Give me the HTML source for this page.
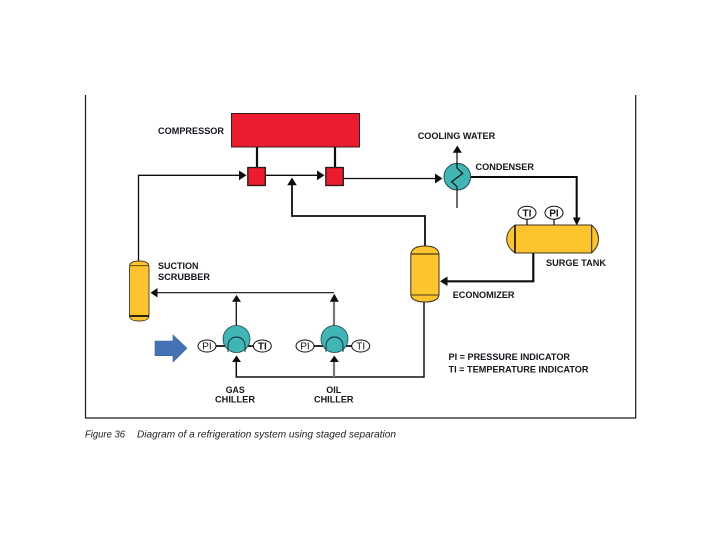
<!DOCTYPE html>
<html>
<head>
<meta charset="utf-8">
<style>
html,body{margin:0;padding:0;background:#fff;width:720px;height:540px;overflow:hidden}
svg{display:block}
text{font-family:"Liberation Sans",sans-serif;font-weight:bold;font-size:9.5px;fill:#15151f}
</style>
</head>
<body>
<svg width="720" height="540" viewBox="0 0 720 540" xmlns="http://www.w3.org/2000/svg">
<defs><filter id="b" x="-2%" y="-2%" width="104%" height="104%"><feGaussianBlur stdDeviation="0.35"/></filter></defs>
<g filter="url(#b)">
<!-- frame -->
<path d="M85.5 95V418H635.7V95" fill="none" stroke="#1a1a1a" stroke-width="1.2"/>

<!-- connectors -->
<g fill="none" stroke="#111" stroke-linejoin="miter">
<path d="M138.5 262V175.3H240" stroke-width="1.3"/>
<path d="M265 175.3H318" stroke-width="1.3"/>
<path d="M343 178.5H436" stroke-width="1.3"/>
<path d="M292 184V216H425V247" stroke-width="1.8"/>
<path d="M257 147V168M335 147V168" stroke-width="2.2"/>
<path d="M470 177H576.7V219" stroke-width="2.1"/>
<path d="M533.3 253V281.3H446" stroke-width="2.2"/>
<path d="M424 301V377H236.3V361" stroke-width="1.5"/>
<path d="M156 292.7H334" stroke-width="1.2"/>
<path d="M236.3 300V326" stroke-width="1.3"/>
<path d="M457 150V208" stroke-width="1.2"/>
</g>
<path d="M334 300V326M334 361V377" stroke="#777" stroke-width="2.2" fill="none"/>

<!-- compressor -->
<rect x="231.5" y="113.5" width="128" height="33.5" fill="#ec1c2e" stroke="#3a1a1e" stroke-width="1"/>
<rect x="247.8" y="167.5" width="17.5" height="18" fill="#ec1c2e" stroke="#2a1416" stroke-width="1.3"/>
<rect x="325.8" y="167.5" width="17.5" height="18" fill="#ec1c2e" stroke="#2a1416" stroke-width="1.3"/>

<!-- arrowheads -->
<g fill="#0b0b0b">
<path d="M239 170.500L246.500 175.300L239 180.300Z"/>
<path d="M317 170.500L324.500 175.300L317 180.300Z"/>
<path d="M292 177.500L296.800 185.200H287.200Z"/>
<path d="M435 173.500L442.500 178.500L435 183.500Z"/>
<path d="M457.300 145.500L461.800 152.800H452.800Z"/>
<path d="M572.800 217.500H580.700L576.700 225.500Z"/>
<path d="M447.500 276.500L440 281.300L447.500 286Z"/>
<path d="M157.500 288L150.500 292.700L157.500 297.500Z"/>
<path d="M236.500 295L241 301.800H232Z"/>
<path d="M334.300 293.800L338.800 301.800H329.800Z"/>
<path d="M236.500 355.500L241 362H232Z"/>
<path d="M334.300 355.500L338.800 362H329.800Z"/>
</g>

<!-- condenser -->
<circle cx="457.3" cy="176.7" r="13.3" fill="#3fb5b5" stroke="#1d4a4f" stroke-width="1"/>
<path d="M457 163V168L462.700 173.500L451.700 181.700L457 186.700V190" fill="none" stroke="#111" stroke-width="1.2"/>

<!-- surge tank -->
<path d="M515 225H591.5Q598.5 231 598.5 239Q598.5 247 591.5 253H515Q506.7 247 506.7 239Q506.7 231 515 225Z" fill="#fdc42d" stroke="#3c3320" stroke-width="1"/>
<path d="M515 225V253" stroke="#111" stroke-width="1.6"/>
<path d="M591.7 225V253" stroke="#222" stroke-width="1"/>
<path d="M527 219V225M554 219V225" stroke="#111" stroke-width="1.2"/>
<ellipse cx="527" cy="212.7" rx="9" ry="6.5" fill="#fff" stroke="#111" stroke-width="1"/>
<ellipse cx="554" cy="212.7" rx="9" ry="6.5" fill="#fff" stroke="#111" stroke-width="1"/>

<!-- economizer -->
<path d="M410.8 254Q412 246 425 246Q438 246 439 254V295Q438 302 425 302Q412 302 410.8 295Z" fill="#fdc42d" stroke="#3c3320" stroke-width="1"/>
<path d="M410.8 254H439" stroke="#4a3a1a" stroke-width="1.2"/>
<path d="M410.8 295H439" stroke="#4a3a1a" stroke-width="1"/>

<!-- scrubber -->
<path d="M129.5 266Q130 261 139 261Q148.500 261 149 266V316Q148.500 321 139 321Q130 321 129.500 316Z" fill="#fdc42d" stroke="#4a3a1a" stroke-width="0.9"/>
<path d="M129.5 265.700H149" stroke="#4a3a1a" stroke-width="0.8"/>
<path d="M129.5 316H149" stroke="#111" stroke-width="1.700"/>

<!-- chillers -->
<path d="M216 346H228M245 346H254" stroke="#111" stroke-width="1.700"/>
<path d="M314 346H326M343 346H352" stroke="#111" stroke-width="1.700"/>
<circle cx="236.500" cy="339" r="13.500" fill="#3fb5b5" stroke="#1d4a4f" stroke-width="0.8"/>
<circle cx="334.500" cy="339" r="13.500" fill="#3fb5b5" stroke="#1d4a4f" stroke-width="0.8"/>
<path d="M228 352V345.500A8.500 8.500 0 0 1 245 345.500V352" fill="none" stroke="#123" stroke-width="0.9"/>
<path d="M326 352V345.500A8.500 8.500 0 0 1 343 345.500V352" fill="none" stroke="#123" stroke-width="0.9"/>
<g fill="#fff" stroke="#111" stroke-width="1">
<ellipse cx="207" cy="346" rx="9" ry="6"/>
<ellipse cx="262.300" cy="346" rx="9" ry="6"/>
<ellipse cx="305" cy="346" rx="9" ry="6"/>
<ellipse cx="360.700" cy="346" rx="9" ry="6"/>
</g>

<!-- blue arrow -->
<path d="M155 341H173V335L187 348.300L173 362V355.700H155Z" fill="#4472b4" stroke="#3a6299" stroke-width="0.6"/>

<!-- labels -->
<text x="158" y="134" textLength="66" lengthAdjust="spacingAndGlyphs">COMPRESSOR</text>
<text x="417.700" y="139" textLength="77.500" lengthAdjust="spacingAndGlyphs">COOLING WATER</text>
<text x="475.500" y="170" textLength="58.500" lengthAdjust="spacingAndGlyphs">CONDENSER</text>
<text x="546" y="266" textLength="60" lengthAdjust="spacingAndGlyphs">SURGE TANK</text>
<text x="158" y="269" textLength="40.500" lengthAdjust="spacingAndGlyphs">SUCTION</text>
<text x="158" y="280" textLength="52" lengthAdjust="spacingAndGlyphs">SCRUBBER</text>
<text x="452.700" y="298" textLength="61.800" lengthAdjust="spacingAndGlyphs">ECONOMIZER</text>
<text x="448.500" y="360" textLength="121.500" lengthAdjust="spacingAndGlyphs">PI = PRESSURE INDICATOR</text>
<text x="448.500" y="372.700" textLength="140" lengthAdjust="spacingAndGlyphs">TI = TEMPERATURE INDICATOR</text>
<text x="225.700" y="393" textLength="19" lengthAdjust="spacingAndGlyphs">GAS</text>
<text x="215" y="402.700" textLength="40" lengthAdjust="spacingAndGlyphs">CHILLER</text>
<text x="326.300" y="393" textLength="15" lengthAdjust="spacingAndGlyphs">OIL</text>
<text x="314" y="402.700" textLength="39.500" lengthAdjust="spacingAndGlyphs">CHILLER</text>
<text x="527" y="216.300" text-anchor="middle" style="font-size:10px">TI</text>
<text x="554" y="216.300" text-anchor="middle" style="font-size:10px">PI</text>
<text x="207" y="349.500" text-anchor="middle" style="font-size:10px;font-weight:normal">PI</text>
<text x="262.300" y="349.500" text-anchor="middle" style="font-size:10px">TI</text>
<text x="305" y="349.500" text-anchor="middle" style="font-size:10px;font-weight:normal">PI</text>
<text x="360.700" y="349.500" text-anchor="middle" style="font-size:10px;font-weight:normal">TI</text>
<text x="85" y="437.500" textLength="40" lengthAdjust="spacingAndGlyphs" style="font-weight:normal;font-style:italic;font-size:10.500px;fill:#222">Figure 36</text>
<text x="137" y="437.500" textLength="259" lengthAdjust="spacingAndGlyphs" style="font-weight:normal;font-style:italic;font-size:10.500px;fill:#222">Diagram of a refrigeration system using staged separation</text>
</g>
</svg>
</body>
</html>
